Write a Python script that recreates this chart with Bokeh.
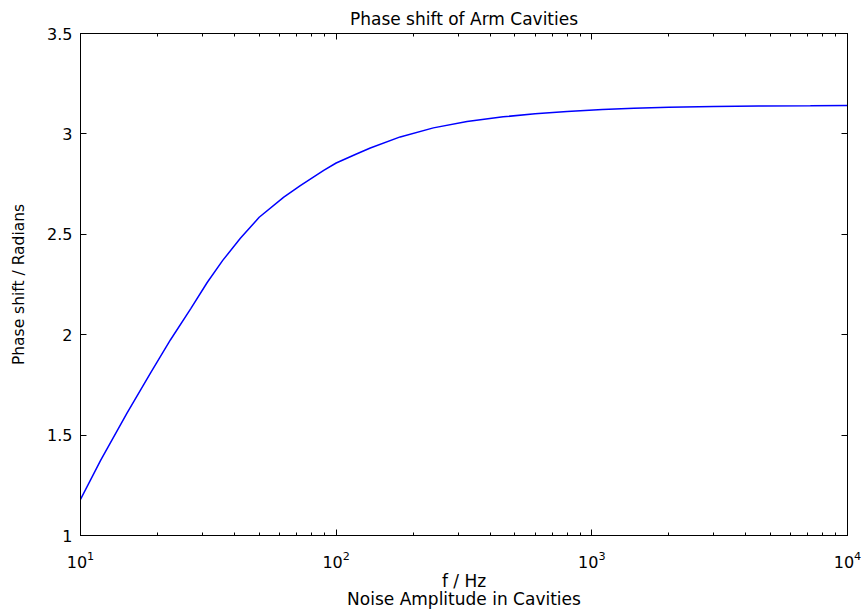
from bokeh.plotting import figure
from bokeh.models import LogAxis, LinearAxis, FixedTicker, LogTicker
from bokeh.embed import file_html
from bokeh.resources import INLINE

# Data
freq = [10, 12, 15.2, 18.8, 22.5, 27, 31.3, 36, 42.2, 50, 62.4, 72.4, 89.4, 100, 120,
        136, 178, 240, 325, 450, 600, 800, 1100, 1460, 2000, 3000, 4500, 7160, 10000]
phase = [1.18, 1.375, 1.61, 1.81, 1.975, 2.13, 2.26, 2.37, 2.48, 2.585, 2.685, 2.742,
         2.818, 2.855, 2.90, 2.93, 2.985, 3.03, 3.062, 3.085, 3.10, 3.112, 3.122, 3.128,
         3.133, 3.137, 3.139, 3.140, 3.141]
y_ticks = [1, 1.5, 2, 2.5, 3, 3.5]
title_text = "Phase shift of Arm Cavities"
x_label = "f / Hz"
y_label = "Phase shift / Radians"
bottom_text = "Noise Amplitude in Cavities"

FONT = "DejaVu Sans"

p = figure(width=864, height=611, x_axis_type="log",
           x_range=(10, 10000), y_range=(1, 3.5),
           output_backend="svg", toolbar_location=None,
           min_border_left=80, min_border_right=17,
           min_border_top=33, min_border_bottom=73)

p.title.text = title_text
p.title.text_font = FONT
p.title.text_font_size = "17px"
p.title.text_font_style = "normal"
p.title.text_color = "black"
p.title.align = "center"
p.title.standoff = 10

p.xgrid.visible = False
p.ygrid.visible = False
p.outline_line_color = "black"
p.background_fill_color = "white"
p.border_fill_color = "white"

p.line(freq, phase, line_color="#0000ff", line_width=1.5)

def style_axis(ax, labels=True):
    ax.axis_line_color = "black"
    ax.axis_line_width = 1
    ax.major_tick_line_color = "black"
    ax.minor_tick_line_color = "black"
    ax.major_tick_in = 6
    ax.major_tick_out = 0
    ax.minor_tick_in = 3
    ax.minor_tick_out = 0
    ax.major_label_text_font = FONT
    ax.major_label_text_font_size = "16px"
    ax.major_label_text_color = "black"
    ax.axis_label_text_font = FONT
    ax.axis_label_text_font_size = "16px"
    ax.axis_label_text_font_style = "normal"
    ax.axis_label_text_color = "black"
    if not labels:
        ax.major_label_text_font_size = "1px"
        ax.major_label_text_alpha = 0
        ax.major_label_standoff = 0

xa = p.xaxis[0]
xa.ticker = LogTicker(desired_num_ticks=4, num_minor_ticks=10)
style_axis(xa)
xa.major_label_standoff = 15
xa.axis_label = x_label + "\n" + bottom_text
xa.axis_label_text_font_size = "17px"
xa.axis_label_text_line_height = 0.9
xa.axis_label_standoff = 0

ya = p.yaxis[0]
ya.ticker = FixedTicker(ticks=y_ticks)
style_axis(ya)
ya.minor_tick_in = 0
ya.major_label_standoff = 8
ya.axis_label = y_label
ya.axis_label_text_font_size = "15.5px"
ya.axis_label_standoff = 16

top = LogAxis(ticker=LogTicker(desired_num_ticks=4, num_minor_ticks=10))
style_axis(top, labels=False)
p.add_layout(top, "above")

right = LinearAxis(ticker=FixedTicker(ticks=y_ticks))
style_axis(right, labels=False)
right.minor_tick_in = 0
p.add_layout(right, "right")

open("out.html", "w").write(file_html(p, INLINE))
